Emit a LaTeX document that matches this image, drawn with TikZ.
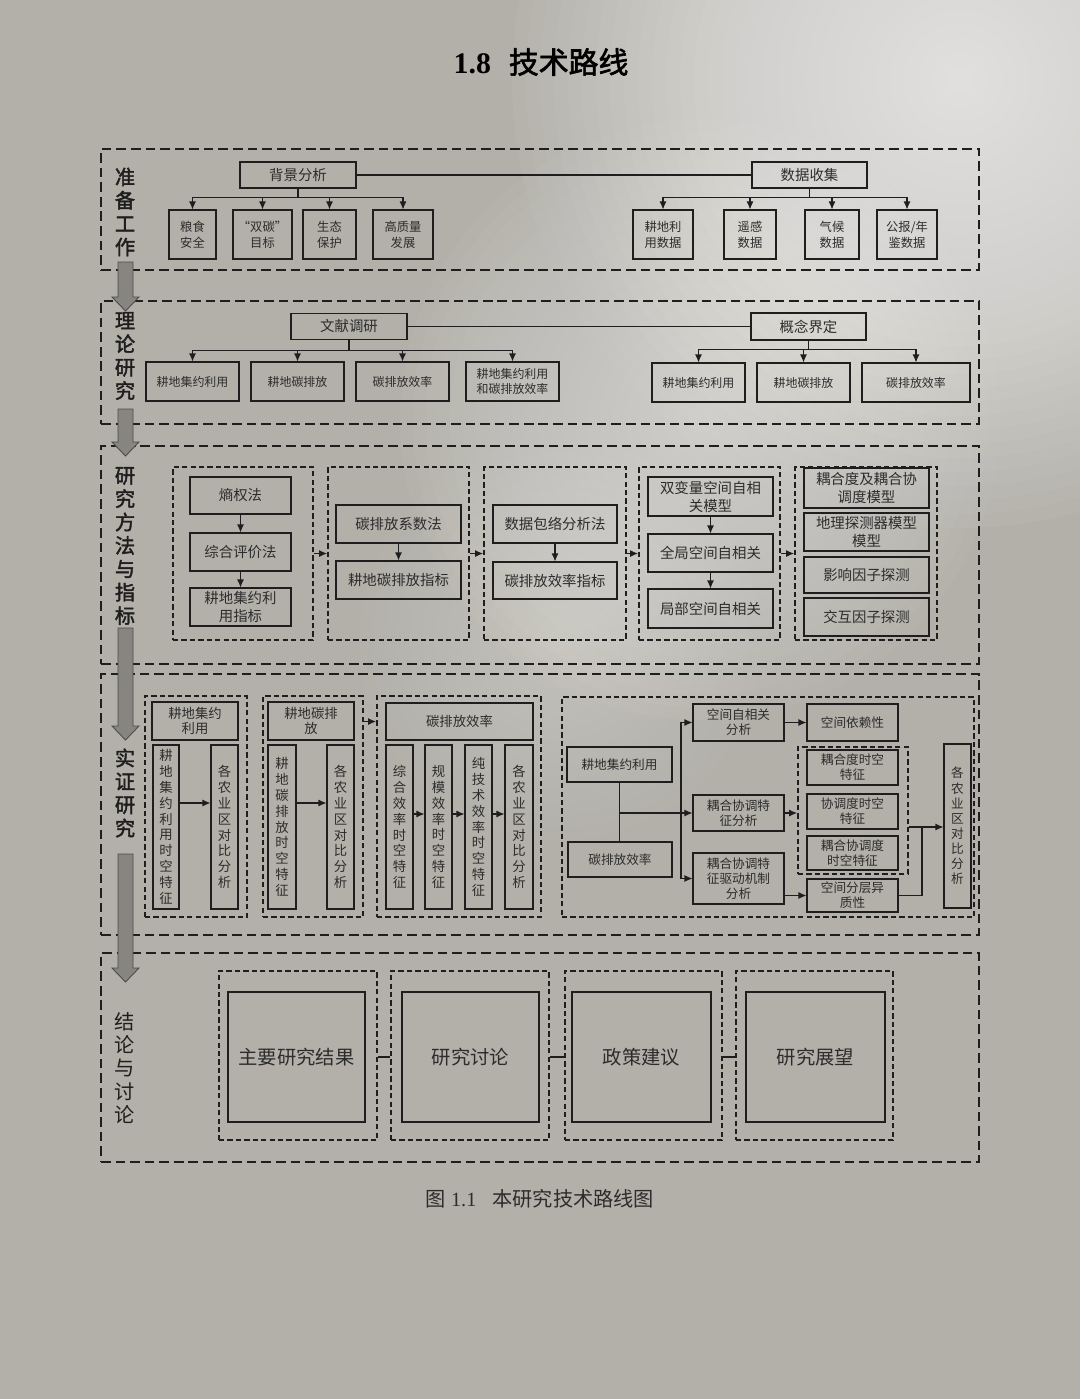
\documentclass[tikz,border=0pt]{standalone}
\usepackage{fontspec}
\setmainfont{Liberation Serif}
\newfontfamily\cjk{Noto Sans CJK SC}[AutoFakeBold=2]
\usetikzlibrary{arrows.meta,calc,positioning}
\definecolor{ink}{HTML}{1E1E1E}
\definecolor{txt}{HTML}{2C2C2C}
\definecolor{paper}{HTML}{B2B0A8}
\definecolor{arrgray}{HTML}{86857F}
\newcommand\fsz[2]{\fontsize{#1}{#2}\selectfont}

\begin{document}
\begin{tikzpicture}[x=0.02cm,y=-0.02cm,
  sz/.style 2 args={minimum width=#1*0.02cm,minimum height=#2*0.02cm},
  bx/.style={draw=ink,semithick,inner sep=0pt,align=center,text=txt},
  grp/.style={draw=ink,line width=1.1pt,dash pattern=on 3pt off 1.8pt,inner sep=0pt},
  sec/.style={draw=ink,line width=1.6pt,dash pattern=on 5.5pt off 2.8pt,inner sep=0pt},
  seclab/.style={align=center,text=ink,font=\cjk\bfseries\fsz{11.5}{13.3}},
  arr/.style={-{Latex[length=1.6mm,width=1.4mm]},semithick,draw=ink},
  ln/.style={semithick,draw=ink},
  bigarr/.style={fill=arrgray,draw=ink!80,line width=0.5pt},
  glow/.style={fill=white,opacity=0.04},
  fA/.style={font=\cjk\fsz{7}{9}},
  fH/.style={font=\cjk\fsz{8.2}{10}},
  fB/.style={font=\cjk\fsz{6.8}{8.6}},
  fC/.style={font=\cjk\fsz{8.2}{10.2}},
  fD/.style={font=\cjk\fsz{7.6}{9}},
  fE/.style={font=\cjk\fsz{7.2}{8.6}},
  fF/.style={font=\cjk\fsz{11}{13}}]
\useasboundingbox (0,0) rectangle (1080,1399);
\fill[paper] (0,0) rectangle (1080,1399);
\begin{scope}
\clip (0,0) rectangle (1080,1399);
% light falling on the page
\foreach \r in {1,...,32}
  \fill[glow] (960,80) circle [radius=\r*0.28cm];
\foreach \r in {1,...,24}
  \fill[glow,opacity=0.028] (700,420) circle [radius=\r*0.25cm];
\foreach \r in {1,...,16}
  \fill[glow,opacity=0.022] (560,640) circle [radius=\r*0.25cm];
\end{scope}

% title and caption
\node[font=\bfseries\fsz{17}{20},text=black] (title) at (541,62) {1.8\hspace{0.6em}{\cjk 技术路线}};
\node[font=\fsz{11.5}{14},text=txt] (cap) at (540,1199) {{\cjk 图} 1.1\hspace{0.8em}{\cjk 本研究技术路线图}};

% section frames
\node[sec,sz={878}{121}] (S1) at (540,209.5) {};
\node[sec,sz={878}{123}] (S2) at (540,362.5) {};
\node[sec,sz={878}{218}] (S3) at (540,555) {};
\node[sec,sz={878}{261}] (S4) at (540,804.5) {};
\node[sec,sz={878}{209}] (S5) at (540,1057.5) {};

\node[seclab] (L1) at (125,212) {准\\备\\工\\作};
\node[seclab] (L2) at (125,356) {理\\论\\研\\究};
\node[seclab] (L3) at (125,546) {研\\究\\方\\法\\与\\指\\标};
\node[seclab] (L4) at (125,793) {实\\证\\研\\究};
\node[seclab,font=\cjk\fsz{11.5}{13.3}] (L5) at (125,1068) {结\\论\\与\\讨\\论};

% 准备工作
\node[bx,fH,sz={116}{26}] (bg) at (298,175) {背景分析};
\node[bx,fH,sz={115}{26}] (sj) at (809.5,175) {数据收集};
\node[bx,fA,sz={47}{49}] (b1) at (192.5,234.5) {粮食\\安全};
\node[bx,fA,sz={59}{49}] (b2) at (262.5,234.5) {“双碳”\\目标};
\node[bx,fA,sz={53}{49}] (b3) at (329.5,234.5) {生态\\保护};
\node[bx,fA,sz={60}{49}] (b4) at (403,234.5) {高质量\\发展};
\node[bx,fA,sz={60}{49}] (d1) at (663,234.5) {耕地利\\用数据};
\node[bx,fA,sz={52}{49}] (d2) at (750,234.5) {遥感\\数据};
\node[bx,fA,sz={54}{49}] (d3) at (832,234.5) {气候\\数据};
\node[bx,fA,sz={60}{49}] (d4) at (907,234.5) {公报/年\\鉴数据};
\draw[ln] (bg) -- (sj);
\foreach \n in {b1,b2,b3,b4}
  \draw[arr] (bg.south) -- ++(0,9) -| (\n.north);
\foreach \n in {d1,d2,d3,d4}
  \draw[arr] (sj.south) -- ++(0,9) -| (\n.north);

% 理论研究
\node[bx,fH,sz={116}{26}] (wx) at (349,326.5) {文献调研};
\node[bx,fH,sz={115}{27}] (gn) at (808.5,326.5) {概念界定};
\node[bx,fB,sz={93}{39}] (t1) at (192.5,381.5) {耕地集约利用};
\node[bx,fB,sz={93}{39}] (t2) at (297.5,381.5) {耕地碳排放};
\node[bx,fB,sz={93}{39}] (t3) at (402.5,381.5) {碳排放效率};
\node[bx,fB,sz={93}{39}] (t4) at (512.5,381.5) {耕地集约利用\\和碳排放效率};
\node[bx,fB,sz={93}{39}] (g1) at (698.5,382.5) {耕地集约利用};
\node[bx,fB,sz={93}{39}] (g2) at (803.5,382.5) {耕地碳排放};
\node[bx,fB,sz={108}{39}] (g3) at (916,382.5) {碳排放效率};
\draw[ln] (wx) -- (gn);
\foreach \n in {t1,t2,t3,t4}
  \draw[arr] (wx.south) -- ++(0,10) -| (\n.north);
\foreach \n in {g1,g2,g3}
  \draw[arr] (gn.south) -- ++(0,9) -| (\n.north);

% 研究方法与指标
\node[grp,sz={140}{173}] (G1) at (243,553.5) {};
\node[grp,sz={141}{173}] (G2) at (398.5,553.5) {};
\node[grp,sz={142}{173}] (G3) at (555,553.5) {};
\node[grp,sz={141}{173}] (G4) at (709.5,553.5) {};
\node[grp,sz={142}{173}] (G5) at (866,553.5) {};
\node[bx,fC,sz={101}{37}] (m1) at (240.5,495.5) {熵权法};
\node[bx,fC,sz={101}{38}] (m2) at (240.5,552) {综合评价法};
\node[bx,fC,sz={101}{38}] (m3) at (240.5,607) {耕地集约利\\用指标};
\node[bx,fC,sz={125}{38}] (n1) at (398.5,524) {碳排放系数法};
\node[bx,fC,sz={125}{38}] (n2) at (398.5,580) {耕地碳排放指标};
\node[bx,fC,sz={124}{38}] (o1) at (555,524) {数据包络分析法};
\node[bx,fC,sz={124}{37}] (o2) at (555,580.5) {碳排放效率指标};
\node[bx,fC,sz={125}{39}] (p1) at (710.5,496.5) {双变量空间自相\\关模型};
\node[bx,fC,sz={125}{38}] (p2) at (710.5,553) {全局空间自相关};
\node[bx,fC,sz={125}{39}] (p3) at (710.5,608.5) {局部空间自相关};
\node[bx,fC,sz={125}{40}] (r1) at (866.5,488) {耦合度及耦合协\\调度模型};
\node[bx,fC,sz={125}{38}] (r2) at (866.5,532) {地理探测器模型\\模型};
\node[bx,fC,sz={125}{36}] (r3) at (866.5,575) {影响因子探测};
\node[bx,fC,sz={125}{38}] (r4) at (866.5,617) {交互因子探测};
\foreach \p/\q in {m1/m2,m2/m3,n1/n2,o1/o2,p1/p2,p2/p3}
  \draw[arr] (\p) -- (\q);
\foreach \p/\q in {G1/G2,G2/G3,G3/G4,G4/G5}
  \draw[arr] (\p) -- (\q);

% 实证研究
\node[grp,sz={102}{221}] (H1) at (196,806.5) {};
\node[grp,sz={100}{221}] (H2) at (313,806.5) {};
\node[grp,sz={164}{221}] (H3) at (459,806.5) {};
\node[grp,sz={412}{220}] (H4) at (768,807) {};
\node[bx,fD,sz={86}{38}] (h1) at (195,721) {耕地集约\\利用};
\node[bx,fD,sz={86}{38}] (h2) at (311,721) {耕地碳排\\放};
\node[bx,fD,sz={147}{37}] (h3) at (459.5,721.5) {碳排放效率};
\node[bx,fD,sz={26}{164}] (a1) at (166,827) {耕\\地\\集\\约\\利\\用\\时\\空\\特\\征};
\node[bx,fD,sz={27}{164}] (a2) at (224.5,827) {各\\农\\业\\区\\对\\比\\分\\析};
\node[bx,fD,sz={28}{164}] (a3) at (282,827) {耕\\地\\碳\\排\\放\\时\\空\\特\\征};
\node[bx,fD,sz={27}{164}] (a4) at (340.5,827) {各\\农\\业\\区\\对\\比\\分\\析};
\node[bx,fD,sz={27}{164}] (a5) at (399.5,827) {综\\合\\效\\率\\时\\空\\特\\征};
\node[bx,fD,sz={27}{164}] (a6) at (438.5,827) {规\\模\\效\\率\\时\\空\\特\\征};
\node[bx,fD,sz={27}{164}] (a7) at (478.5,827) {纯\\技\\术\\效\\率\\时\\空\\特\\征};
\node[bx,fD,sz={28}{164}] (a8) at (519,827) {各\\农\\业\\区\\对\\比\\分\\析};
\coordinate (lv) at (0,803);
\coordinate (le) at (0,814);
\foreach \p/\q in {a1/a2,a3/a4}
  \draw[arr] (\p.east |- lv) -- (\q.west |- lv);
\foreach \p/\q in {a5/a6,a6/a7,a7/a8}
  \draw[arr] (\p.east |- le) -- (\q.west |- le);
\draw[arr] (H2.east |- h3) -- (H3.west |- h3);

\node[bx,fE,sz={105}{35}] (e1) at (619.5,764.5) {耕地集约利用};
\node[bx,fE,sz={104}{35}] (e2) at (620,859.5) {碳排放效率};
\node[bx,fE,sz={91}{37}] (f1) at (738.5,722.5) {空间自相关\\分析};
\node[bx,fE,sz={91}{36}] (f2) at (738.5,813) {耦合协调特\\征分析};
\node[bx,fE,sz={91}{51}] (f3) at (738.5,878.5) {耦合协调特\\征驱动机制\\分析};
\node[bx,fE,sz={91}{37}] (q1) at (852.5,722.5) {空间依赖性};
\node[grp,sz={110}{127}] (CG) at (853,810.5) {};
\node[bx,fE,sz={91}{35}] (c1) at (852.5,767.5) {耦合度时空\\特征};
\node[bx,fE,sz={91}{35}] (c2) at (852.5,811.5) {协调度时空\\特征};
\node[bx,fE,sz={91}{34}] (c3) at (852.5,853) {耦合协调度\\时空特征};
\node[bx,fE,sz={91}{33}] (q2) at (852.5,895.5) {空间分层异\\质性};
\node[bx,fE,sz={27}{164}] (rr) at (957.5,826) {各\\农\\业\\区\\对\\比\\分\\析};
\coordinate (jn) at (681,813);
\coordinate (jr) at (922,827);
\draw[ln] (e1.south) -- (e1.south |- e2.north);
\draw[ln] (e1.south |- jn) -- (jn);
\draw[arr] (jn) -- (f2.west);
\draw[arr] (jn) |- (f1.west);
\draw[arr] (jn) |- (f3.west);
\draw[arr] (f1) -- (q1);
\draw[arr] (f2.east) -- (CG.west |- f2);
\draw[arr] (f3.east |- q2) -- (q2.west);
\draw[ln] (CG.east |- jr) -- (jr) |- (q2.east);
\draw[arr] (jr) -- (rr.west |- jr);

% 结论与讨论
\node[grp,sz={158}{169}] (K1) at (298,1055.5) {};
\node[grp,sz={158}{169}] (K2) at (470,1055.5) {};
\node[grp,sz={157}{169}] (K3) at (643.5,1055.5) {};
\node[grp,sz={157}{169}] (K4) at (814.5,1055.5) {};
\node[bx,fF,sz={137}{130}] (k1) at (296.5,1057) {主要研究结果};
\node[bx,fF,sz={137}{130}] (k2) at (470.5,1057) {研究讨论};
\node[bx,fF,sz={139}{130}] (k3) at (641.5,1057) {政策建议};
\node[bx,fF,sz={139}{130}] (k4) at (815.5,1057) {研究展望};
\foreach \p/\q in {K1/K2,K2/K3,K3/K4}
  \draw[ln] (\p.east |- k1) -- (\q.west |- k1);

% flow arrows between sections
\foreach \ya/\yb in {262/311,409/456,628/740,854/982}
  \filldraw[bigarr] (118,\ya) -- (133,\ya) -- (133,\yb-14) -- (139,\yb-14)
    -- (125.5,\yb) -- (112,\yb-14) -- (118,\yb-14) -- cycle;
\end{tikzpicture}
\end{document}
